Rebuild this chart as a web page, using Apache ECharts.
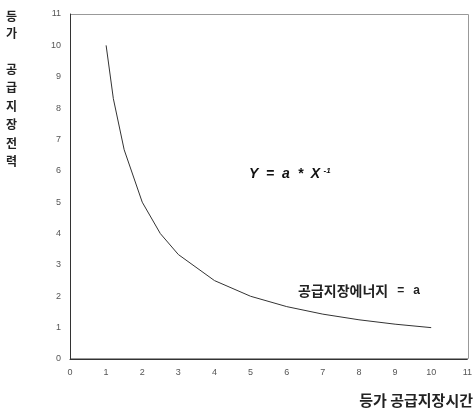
<!DOCTYPE html>
<html><head><meta charset="utf-8">
<script src="https://cdn.jsdelivr.net/npm/echarts@6/dist/echarts.min.js"></script>
<style>html,body{margin:0;padding:0;background:#fff}#c{width:475px;height:412px}</style>
</head><body><div id="c"></div>
<script>
const xValues = [1, 1.2, 1.5, 2, 2.5, 3, 4, 5, 6, 7, 8, 9, 10];
const yValues = [10, 8.3, 6.67, 5, 4, 3.33, 2.5, 2, 1.67, 1.43, 1.25, 1.11, 1];
const xTicks = [0,1,2,3,4,5,6,7,8,9,10,11];
const yTicks = [0,1,2,3,4,5,6,7,8,9,10,11];
const yTitleTop = "등\n가";
const yTitleMain = "공\n급\n지\n장\n전\n력";
const xTitle = "등가 공급지장시간";
const formula = "Y  =  a  *  X";
const formulaSup = "-1";
const energyName = "공급지장에너지";
const energyValue = "a";

const chart = echarts.init(document.getElementById('c'), null, {renderer:'canvas'});
const kr = '"Noto Sans CJK KR", sans-serif';
const arial = 'Arial, "Liberation Sans", sans-serif';
const lab = {color:'#555', fontSize:9, fontFamily:arial};
chart.setOption({
  animation:false,
  grid:{left:70, right:6, top:14, bottom:53},
  xAxis:{type:'value', min:0, max:11, interval:1,
    axisLine:{show:true, onZero:false, lineStyle:{color:'#333', width:1}},
    axisTick:{show:false}, splitLine:{show:false},
    axisLabel:Object.assign({margin:9, formatter:v=>xTicks.includes(v)?String(v):''}, lab)},
  yAxis:{type:'value', min:0, max:11, interval:1,
    axisLine:{show:true, onZero:false, lineStyle:{color:'#333', width:1}},
    axisTick:{show:false}, splitLine:{show:false},
    axisLabel:Object.assign({margin:9, formatter:v=>yTicks.includes(v)?String(v):''}, lab)},
  graphic:[
    {type:'rect', shape:{x:70.5, y:14.5, width:398, height:344}, style:{fill:'none', stroke:'#999', lineWidth:1}, silent:true, z:-1},
    {type:'text', left:6, top:8, style:{text:yTitleTop, font:'bold 12px '+kr, fill:'#222', lineHeight:17}},
    {type:'text', left:6, top:60, style:{text:yTitleMain, font:'bold 12px '+kr, fill:'#222', lineHeight:18.5}},
    {type:'text', right:2, top:393, style:{text:xTitle, font:'bold 15px '+kr, fill:'#222'}},
    {type:'text', left:249, top:167, style:{
      text:'{m|'+formula+'} {s|'+formulaSup+'}',
      rich:{m:{font:'italic bold 14px '+arial, fill:'#111', verticalAlign:'bottom'},
            s:{font:'italic bold 8px '+arial, fill:'#111', verticalAlign:'top', padding:[0,0,6,0]}}}},
    {type:'text', left:298, top:284, style:{
      text:'{k|'+energyName+'}{e|=}{v|'+energyValue+'}',
      rich:{k:{font:'bold 14px '+kr, fill:'#222'},
            e:{font:'bold 12px '+arial, fill:'#222', padding:[0,9,0,9]},
            v:{font:'bold 12px '+arial, fill:'#222'}}}}
  ],
  series:[{type:'line', data:xValues.map((x,i)=>[x,yValues[i]]), showSymbol:false,
    lineStyle:{color:'#333', width:1}}]
});
</script></body></html>
